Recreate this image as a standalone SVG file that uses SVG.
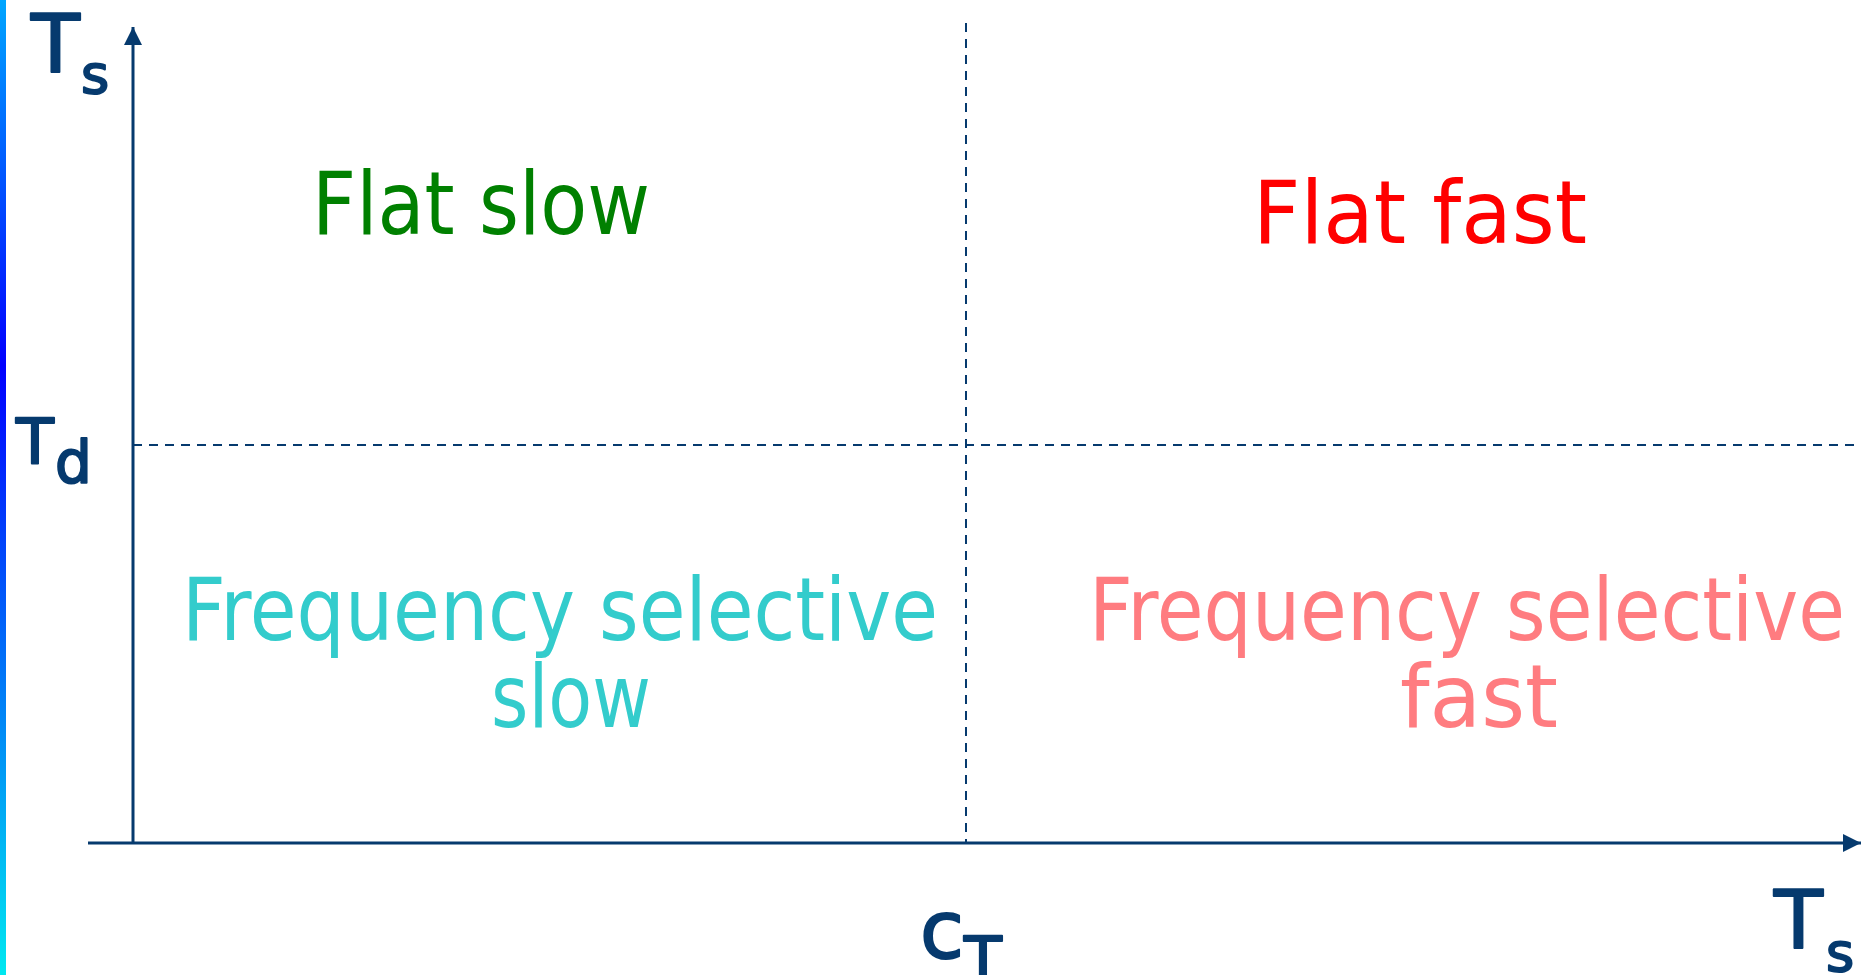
<svg xmlns="http://www.w3.org/2000/svg" width="1865" height="975" viewBox="0 0 1865 975">
<style>
.axis{stroke:#063a6e;stroke-width:3;fill:none}
.dash{stroke:#063a6e;stroke-width:2;fill:none;stroke-dasharray:9 7}
.lbl{font-family:"DejaVu Sans","Liberation Sans",sans-serif;fill:#063a6e;stroke:#063a6e;stroke-width:2;stroke-linejoin:round}
.reg{font-family:"DejaVu Sans","Liberation Sans",sans-serif;font-size:88px}
</style>
<defs>
<linearGradient id="bar" x1="0" y1="0" x2="0" y2="1">
<stop offset="0" stop-color="#00a6ff"/>
<stop offset="0.375" stop-color="#0000ff"/>
<stop offset="1" stop-color="#00e8f0"/>
</linearGradient>
<marker id="arr" markerWidth="18" markerHeight="18" refX="18" refY="9" orient="auto" markerUnits="userSpaceOnUse">
<path d="M0,0 L18,9 L0,18 Z" fill="#063a6e"/>
</marker>
</defs>
<rect width="1865" height="975" fill="#ffffff"/>
<rect x="0" y="0" width="6" height="975" fill="url(#bar)"/>
<g id="connectors">
<line class="dash" x1="966" y1="23" x2="966" y2="843"/>
<line class="dash" x1="133" y1="445" x2="1856" y2="445"/>
<line class="axis" x1="133" y1="843" x2="133" y2="27" marker-end="url(#arr)"/>
<line class="axis" x1="88" y1="843" x2="1861" y2="843" marker-end="url(#arr)"/>
</g>
<g id="label-ts-y"><text class="lbl" x="31" y="72" font-size="80">T</text><text class="lbl" x="81" y="93" font-size="54">s</text></g>
<g id="label-td"><text class="lbl" x="16" y="463" font-size="62">T</text><text class="lbl" x="55" y="483" font-size="58">d</text></g>
<g id="label-ct"><text class="lbl" x="920" y="958" font-size="80">c</text><text class="lbl" x="964" y="981" font-size="62">T</text></g>
<g id="label-ts-x"><text class="lbl" x="1774" y="948" font-size="80">T</text><text class="lbl" x="1826" y="971" font-size="54">s</text></g>
<g id="flat-slow"><text class="reg" x="312" y="234" fill="#008000" textLength="338" lengthAdjust="spacingAndGlyphs">Flat slow</text></g>
<g id="flat-fast"><text class="reg" x="1253" y="243" fill="#ff0000" textLength="334" lengthAdjust="spacingAndGlyphs">Flat fast</text></g>
<g id="fs-slow"><text class="reg" fill="#33cccc"><tspan x="182" y="640" textLength="756" lengthAdjust="spacingAndGlyphs">Frequency selective</tspan><tspan x="491" y="727" textLength="160" lengthAdjust="spacingAndGlyphs">slow</tspan></text></g>
<g id="fs-fast"><text class="reg" fill="#ff7c80"><tspan x="1089" y="640" textLength="756" lengthAdjust="spacingAndGlyphs">Frequency selective</tspan><tspan x="1400" y="727" textLength="158" lengthAdjust="spacingAndGlyphs">fast</tspan></text></g>
</svg>
